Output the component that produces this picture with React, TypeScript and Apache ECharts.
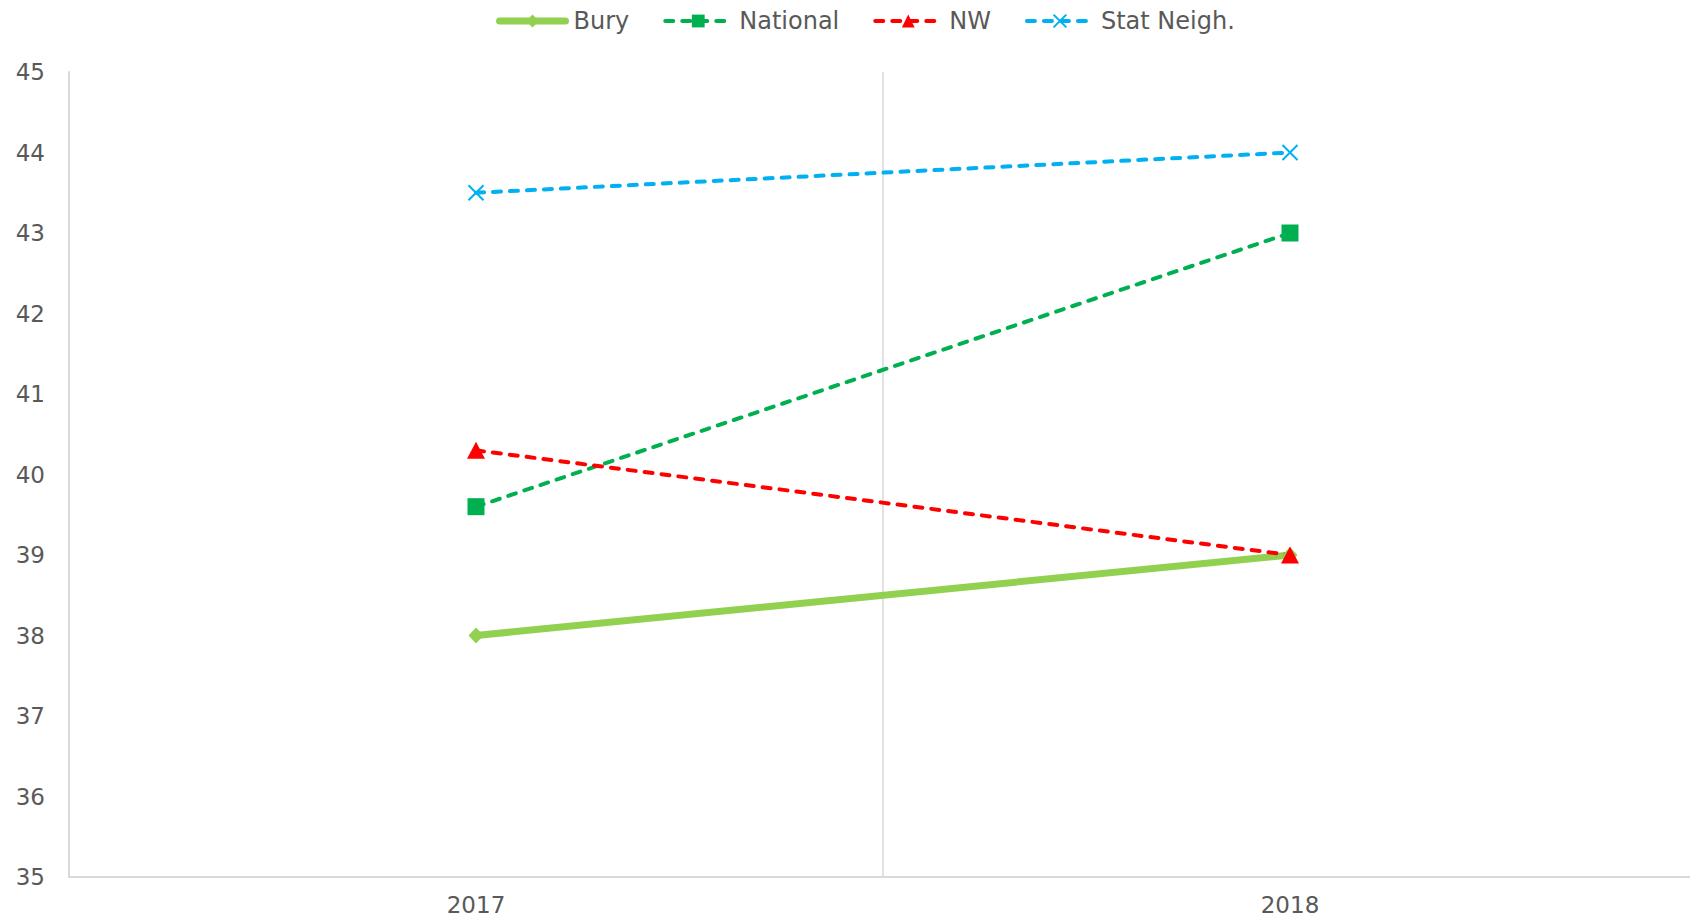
import React, { useEffect, useRef } from "react";
import * as echarts from "echarts";

const categories = ["2017", "2018"];
const bury = [38, 39];
const national = [39.6, 43];
const nw = [40.3, 39];
const statNeigh = [43.5, 44];
const yTicks = { min: 35, max: 45, interval: 1 };

const FONT = "'DejaVu Sans', Verdana, sans-serif";
const TEXT = "#595959";

export default function App() {
  const ref = useRef<HTMLDivElement>(null);
  useEffect(() => {
    if (!ref.current) return;
    const chart = echarts.init(ref.current, undefined, { renderer: "svg" });
    const dashed = (color: string) => ({
      color,
      width: 4,
      type: [8, 9],
      cap: "round",
    });
    chart.setOption({
      animation: false,
      backgroundColor: "#ffffff",
      textStyle: { fontFamily: FONT },
      legend: {
        top: 9,
        left: 496,
        padding: 0,
        itemWidth: 66,
        itemHeight: 16,
        itemGap: 34,
        lineStyle: { width: "inherit" },
        textStyle: { fontSize: 24, color: TEXT, fontFamily: FONT, padding: [0, 0, 0, 3] },
        data: ["Bury", "National", "NW", "Stat Neigh."],
      },
      grid: {
        left: 69,
        width: 1628,
        top: 72,
        bottom: 40,
        containLabel: false,
        outerBoundsMode: "none",
      },
      xAxis: {
        type: "category",
        data: categories,
        boundaryGap: true,
        axisLine: { show: true, lineStyle: { color: "#d9d9d9", width: 2 } },
        axisTick: { show: false },
        splitLine: { show: true, lineStyle: { color: "#d9d9d9", width: 1.5 } },
        axisLabel: { color: TEXT, fontSize: 23, margin: 16, fontFamily: FONT },
      },
      yAxis: {
        type: "value",
        min: yTicks.min,
        max: yTicks.max,
        interval: yTicks.interval,
        axisLine: { show: true, lineStyle: { color: "#d9d9d9", width: 2 } },
        axisTick: { show: false },
        splitLine: { show: false },
        axisLabel: { color: TEXT, fontSize: 23, margin: 24, fontFamily: FONT },
      },
      series: [
        {
          name: "Bury",
          type: "line",
          data: bury,
          symbol: "diamond",
          symbolSize: [15, 16],
          lineStyle: { color: "#92d050", width: 7, cap: "round" },
          itemStyle: { color: "#92d050" },
        },
        {
          name: "National",
          type: "line",
          data: national,
          symbol: "rect",
          symbolSize: 17,
          lineStyle: dashed("#00b050"),
          itemStyle: { color: "#00b050" },
        },
        {
          name: "NW",
          type: "line",
          data: nw,
          symbol: "triangle",
          symbolSize: [18, 17],
          lineStyle: dashed("#ff0000"),
          itemStyle: { color: "#ff0000" },
        },
        {
          name: "Stat Neigh.",
          type: "line",
          data: statNeigh,
          symbol: "path://M0,0L10,10M10,0L0,10",
          symbolSize: 15,
          lineStyle: dashed("#00b0f0"),
          itemStyle: { color: "#00b0f0", borderColor: "#00b0f0", borderWidth: 2 },
        },
      ],
    });
    return () => chart.dispose();
  }, []);
  return (
    <div
      ref={ref}
      style={{ position: "fixed", left: 0, top: 0, width: 1690, height: 917, background: "#fff" }}
    />
  );
}
